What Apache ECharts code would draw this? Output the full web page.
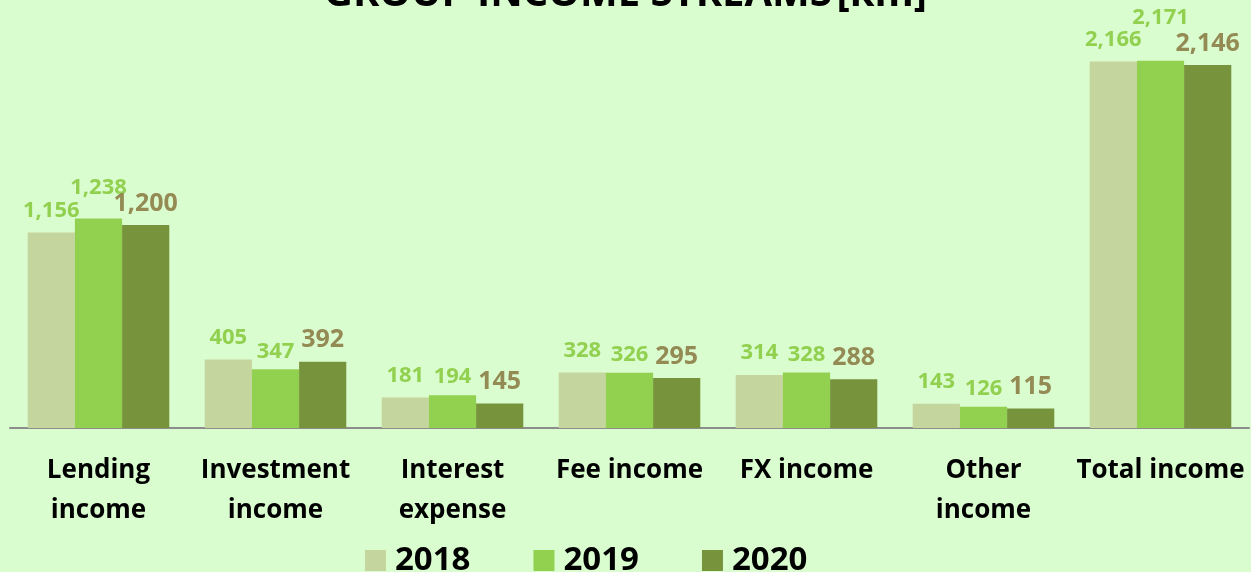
<!DOCTYPE html>
<html lang="en">
<head>
    <meta charset="UTF-8">
    <title>Group income streams</title>
    <script src="https://cdn.jsdelivr.net/npm/echarts@6/dist/echarts.min.js"></script>
    <style>
        html, body { margin: 0; padding: 0; background: #DAFDD0; }
    </style>
</head>
<body>
    <div id="echarts" style="width: 1251px; height: 572px;"></div>
    <script>
        const myChart = echarts.init(document.querySelector('#echarts'));
        const categories = ['Lending\nincome', 'Investment\nincome', 'Interest\nexpense', 'Fee income', 'FX income', 'Other\nincome', 'Total income'];
        const years = ['2018', '2019', '2020'];
        const data2018 = [1156, 405, 181, 328, 314, 143, 2166];
        const data2019 = [1238, 347, 194, 326, 328, 126, 2171];
        const data2020 = [1200, 392, 145, 295, 288, 115, 2146];

        const barColors = ['#C5D59E', '#92D050', '#77933C'];
        const labelColors = ['#92D050', '#92D050', '#948A54'];
        const labelSizes = [22, 22, 25];
        const labelDist = [11, 7, 9];
        // labels of 2019 pushed up where they would collide with neighbours
        const raised2019 = { 0: 20, 6: 32 };
        const fmt = p => p.value.toLocaleString('en-US');
        const font = 'Open Sans';

        const option = {
            backgroundColor: '#DAFDD0',
            textStyle: { fontFamily: font },
            title: {
                text: '{b|GROUP INCOME STREAMS} {r|[km]}',
                left: 'center',
                top: -30,
                textStyle: {
                    rich: {
                        b: { fontSize: 40, fontWeight: 'bold', color: '#000', fontFamily: font },
                        r: { fontSize: 40, color: '#000', fontFamily: font }
                    }
                }
            },
            legend: {
                data: years,
                bottom: -10,
                left: 360,
                itemWidth: 21,
                itemHeight: 21,
                itemGap: 63,
                icon: 'rect',
                textStyle: { fontSize: 33, fontWeight: 'bold', color: '#000', fontFamily: font, padding: [0, 0, 0, 4] }
            },
            grid: { left: 10, right: 2, top: 22, bottom: 144 },
            xAxis: {
                type: 'category',
                data: categories,
                axisLine: { lineStyle: { color: '#8C8C8C', width: 2 } },
                axisTick: { show: false },
                axisLabel: {
                    interval: 0,
                    margin: 23,
                    fontSize: 26,
                    fontWeight: 'bold',
                    color: '#000',
                    lineHeight: 40,
                    fontFamily: font
                }
            },
            yAxis: {
                type: 'value',
                min: 0,
                max: 2400,
                show: false,
                splitLine: { show: false }
            },
            series: [data2018, data2019, data2020].map((d, i) => ({
                name: years[i],
                type: 'bar',
                data: d.map((v, j) => i === 1 && raised2019[j]
                    ? { value: v, label: { distance: raised2019[j] } }
                    : v),
                barGap: '0%',
                barCategoryGap: '20%',
                itemStyle: { color: barColors[i] },
                label: {
                    show: true,
                    position: 'top',
                    distance: labelDist[i],
                    formatter: fmt,
                    fontSize: labelSizes[i],
                    fontWeight: 'bold',
                    color: labelColors[i],
                    fontFamily: font
                }
            }))
        };
        myChart.setOption(option);
    </script>
</body>
</html>
